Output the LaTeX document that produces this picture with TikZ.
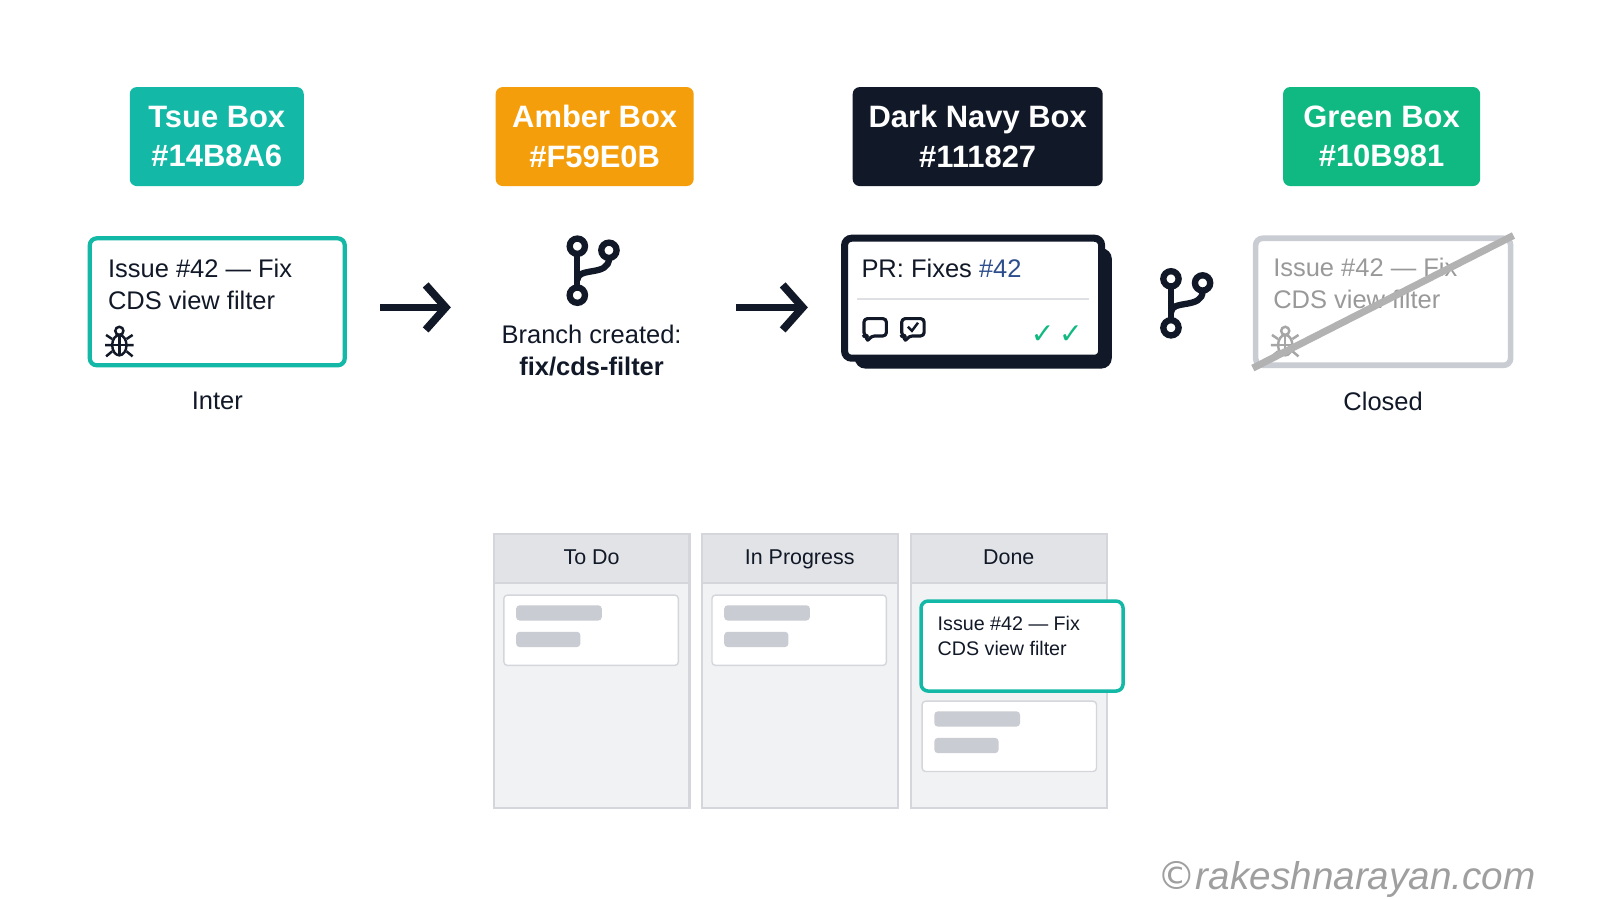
\documentclass[tikz,border=0pt]{standalone}
\usepackage{fontspec}
\setmainfont{Liberation Sans}
\usetikzlibrary{positioning,arrows.meta}
\definecolor{tsue}{HTML}{14B8A6}
\definecolor{amber}{HTML}{F59E0B}
\definecolor{navy}{HTML}{111827}
\definecolor{grn}{HTML}{10B981}
\definecolor{pale}{HTML}{F1F2F4}
\definecolor{bar}{HTML}{C9CCD2}
\definecolor{hashblue}{HTML}{2D4E8C}
\tikzset{
  swatch/.style={rounded corners=2pt, text=white, align=center, minimum height=0.99cm, font=\fontsize{8.8}{11.2}\selectfont\bfseries},
  card/.style={draw, line width=1.2pt, rounded corners=2pt, fill=white},
  lbl/.style={font=\fontsize{7.25}{9.2}\selectfont, text=navy},
  col/.style={draw=bar!80, fill=pale, line width=0.6pt},
  arr/.style={-{Straight Barb[length=2mm,width=4.5mm]}, line width=2.2pt, navy},
  branch/.style={line width=1.8pt, navy},
  gbar/.style={fill=bar, rounded corners=1pt},
  bubble/.style={navy, line width=0.9pt, rounded corners=1pt, line join=round},
}
\newcommand{\branchicon}[2]{% centre x, y of top-left dot
  \begin{scope}[shift={(#1,#2)}]
    \draw[branch] (0,-0.08) -- (0,-0.4);
    \draw[branch] (0.31,-0.12) .. controls (0.31,-0.3) and (0,-0.2) .. (0,-0.33);
    \draw[branch, fill=white] (0,0) circle (0.075) (0.31,-0.04) circle (0.075) (0,-0.48) circle (0.075);
  \end{scope}}
\newcommand{\bugicon}[3]{% x, y, colour
  \begin{scope}[shift={(#1,#2)}, #3, line width=0.7pt]
    \draw (0,0) ellipse (0.07 and 0.1);
    \draw (0,0.14) circle (0.04);
    \draw (-0.07,0) -- (0.07,0) (0,-0.1) -- (0,0.1);
    \draw (-0.07,0.06) -- (-0.13,0.1) (-0.07,0) -- (-0.14,0) (-0.07,-0.06) -- (-0.13,-0.11);
    \draw (0.07,0.06) -- (0.13,0.1) (0.07,0) -- (0.14,0) (0.07,-0.06) -- (0.13,-0.11);
  \end{scope}}
\newcommand{\bubbleicon}[3]{% x, y, tick?
  \begin{scope}[shift={(#1,#2)}]
    \draw[bubble] (-0.11,-0.07) -- (-0.11,0.1) -- (0.11,0.1) -- (0.11,-0.07) -- (-0.04,-0.07) -- (-0.08,-0.13) -- (-0.08,-0.07) -- cycle;
    #3
  \end{scope}}
\begin{document}
\begin{tikzpicture}[x=1.02cm,y=1.02cm]
  \fill[white] (0,0.17) rectangle (15.686,8.984);
  % colour swatches
  \node[swatch, fill=tsue, minimum width=1.74cm] (tsue) at (2.125,7.645) {Tsue Box\\\#14B8A6};
  \node[swatch, fill=amber, minimum width=1.98cm] (amber) at (5.83,7.645) {Amber Box\\\#F59E0B};
  \node[swatch, fill=navy, minimum width=2.5cm] (navybox) at (9.585,7.645) {Dark Navy Box\\\#111827};
  \node[swatch, fill=grn, minimum width=1.97cm] (green) at (13.545,7.645) {Green Box\\\#10B981};
  % issue card
  \node[card, draw=tsue, minimum width=2.55cm, minimum height=1.27cm] (issue) at (2.13,6.025) {};
  \node[lbl, anchor=north west, align=left] (issuetxt) at ([xshift=0.08cm,yshift=-0.1cm]issue.north west) {Issue \#42 — Fix\\CDS view filter};
  \bugicon{1.17}{5.6}{navy}
  \node[lbl, below=0.12cm of issue] (inter) {Inter};
  % branch
  \branchicon{5.66}{6.57}
  \node[lbl, align=center] (branchtxt) at (5.8,5.55) {Branch created:\\\textbf{fix/cds-filter}};
  \coordinate (a1s) at (3.73,5.97); \coordinate (a1e) at (4.42,5.97);
  \draw[arr] (a1s) -- (a1e);
  \coordinate (a2s) at (7.22,5.97); \coordinate (a2e) at (7.92,5.97);
  \draw[arr] (a2s) -- (a2e);
  % pull request card
  \fill[navy, rounded corners=3pt] (8.38,5.37) rectangle (10.9,6.55);
  \node[card, draw=navy, line width=2pt, minimum width=2.57cm, minimum height=1.2cm] (pr) at (9.54,6.06) {};
  \node[lbl, anchor=north west] (prtxt) at ([xshift=0.08cm,yshift=-0.12cm]pr.north west) {PR: Fixes \textcolor{hashblue}{\#42}};
  \draw[bar!60, line width=0.6pt] ([xshift=0.16cm,yshift=-0.64cm]pr.north west) -- ([xshift=-0.16cm,yshift=-0.64cm]pr.north east);
  \bubbleicon{8.58}{5.76}{}
  \bubbleicon{8.95}{5.76}{\draw[navy, line width=0.7pt] (-0.05,0.02) -- (-0.01,-0.02) -- (0.05,0.06);}
  \node[anchor=east, text=grn, font=\fontsize{8}{8}\selectfont] (checks) at ([xshift=-0.1cm,yshift=0.27cm]pr.south east) {\fontspec{DejaVu Sans}✓\,✓};
  \branchicon{11.48}{6.25}
  % closed card
  \node[card, draw=bar, line width=1.6pt, minimum width=2.55cm, minimum height=1.27cm] (closed) at (13.56,6.025) {};
  \node[lbl, text=gray!80, anchor=north west, align=left] (closedtxt) at ([xshift=0.08cm,yshift=-0.1cm]closed.north west) {Issue \#42 — Fix\\CDS view filter};
  \bugicon{12.6}{5.6}{gray!70}
  \draw[gray!60, line width=2pt] (closed.south west) -- (closed.north east);
  \node[lbl, below=0.12cm of closed] (closedlbl) {Closed};
  % kanban board
  \foreach \x/\name/\ttl in {4.84/todo/To Do, 6.88/prog/In Progress, 8.93/done/Done}{
    \draw[col] (\x,1.06) rectangle ++(1.92,2.69);
    \draw[col, fill=pale!60!bar] (\x,3.27) rectangle ++(1.92,0.48);
    \node[lbl, font=\fontsize{6.1}{7}\selectfont, anchor=base] (\name) at (\x+0.96,3.45) {\ttl};
  }
  \foreach \x in {4.94, 6.98}{
    \draw[bar!80, fill=white, rounded corners=1pt] (\x,2.46) rectangle ++(1.71,0.69);
    \fill[gbar] (\x+0.12,2.90) rectangle ++(0.84,0.15);
    \fill[gbar] (\x+0.12,2.64) rectangle ++(0.63,0.15);
  }
  \draw[bar!80, fill=white, rounded corners=1pt] (9.04,1.42) rectangle ++(1.71,0.69);
  \fill[gbar] (9.16,1.86) rectangle ++(0.84,0.15);
  \fill[gbar] (9.16,1.60) rectangle ++(0.63,0.15);
  \node[card, draw=tsue, line width=1pt, minimum width=2.02cm, minimum height=0.9cm] (donecard) at (10.02,2.65) {};
  \node[lbl, anchor=north west, align=left, font=\fontsize{5.6}{7.1}\selectfont] (donetxt) at ([xshift=0.06cm,yshift=-0.05cm]donecard.north west) {Issue \#42 — Fix\\CDS view filter};
  % watermark
  \node[text=gray!75, font=\fontsize{11}{11}\selectfont\itshape] (wm) at (13.2,0.36) {{\fontspec{DejaVu Sans}©}rakeshnarayan.com};
  \pgfresetboundingbox
  \useasboundingbox (0,0.17) rectangle (15.686,8.984);
\end{tikzpicture}
\end{document}
